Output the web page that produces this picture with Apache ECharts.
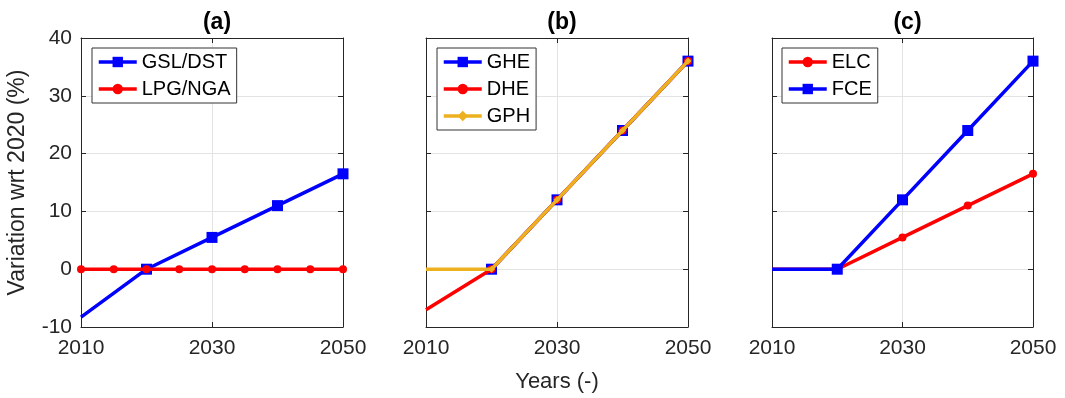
<!DOCTYPE html>
<html>
<head>
<meta charset="utf-8">
<script src="https://cdn.jsdelivr.net/npm/echarts@6/dist/echarts.min.js"></script>
<style>
  html, body { margin: 0; padding: 0; background: #fff; }
  #chart { width: 1065px; height: 398px; }
</style>
</head>
<body>
<div id="chart"></div>
<script>
// ---- data ----
const panelTitles = ['(a)', '(b)', '(c)'];
const yearsDecade = [2010, 2020, 2030, 2040, 2050];
const yearsFive = [2010, 2015, 2020, 2025, 2030, 2035, 2040, 2045, 2050];

// (a)
const gslDst = [-8.3, 0, 5.5, 11, 16.5];
const lpgNga = [0, 0, 0, 0, 0, 0, 0, 0, 0];
// (b)
const yearsGhe = [2020, 2030, 2040, 2050];
const ghe = [0, 12, 24, 36];
const dhe = [-7, 0, 12, 24, 36];
const gph = [0, 0, 12, 24, 36];
// (c)
const elc = [0, 0, 5.5, 11, 16.5];
const fce = [0, 0, 12, 24, 36];

const xTicks = { min: 2010, max: 2050, interval: 20 };
const yTicks = { min: -10, max: 40, interval: 10 };

// ---- styling ----
const FONT = 'Liberation Sans, Arial, Helvetica, sans-serif';
const AX = '#262626';
const BLUE = '#0000ff', RED = '#ff0000', GOLD = '#EDB120';
const LW = 3.5;

const grids = [
  { left: 81, right: 722, top: 38, bottom: 71 },
  { left: 426, right: 377, top: 38, bottom: 71 },
  { left: 772, right: 32, top: 38, bottom: 71 }
];

function pairs(xs, ys, hideFirstSymbol) {
  return xs.map((x, i) => {
    const item = { value: [x, ys[i]] };
    if (hideFirstSymbol && i === 0) item.symbol = 'none';
    return item;
  });
}

const boxLine = { show: true, onZero: false, lineStyle: { color: AX, width: 1 } };
const inTick = { show: true, inside: true, length: 5, lineStyle: { color: AX } };
const gridLine = { show: true, lineStyle: { color: '#e3e3e3', width: 1 } };

const xAxes = [], yAxes = [];
grids.forEach((g, i) => {
  // bottom x axis
  xAxes.push({
    type: 'value', gridIndex: i, position: 'bottom',
    min: xTicks.min, max: xTicks.max, interval: xTicks.interval,
    axisLine: boxLine, axisTick: inTick, splitLine: gridLine,
    axisLabel: {
      show: true, color: AX, fontSize: 21, fontFamily: FONT, margin: 11,
      formatter: v => String(v)
    },
    name: i === 1 ? 'Years (-)' : '', nameLocation: 'middle', nameGap: 44,
    nameTextStyle: { color: AX, fontSize: 22, fontFamily: FONT }
  });
  // top x axis (box edge with ticks)
  xAxes.push({
    type: 'value', gridIndex: i, position: 'top',
    min: xTicks.min, max: xTicks.max, interval: xTicks.interval,
    axisLine: boxLine, axisTick: inTick,
    axisLabel: { show: false }, splitLine: { show: false }
  });
  // left y axis
  yAxes.push({
    type: 'value', gridIndex: i, position: 'left',
    min: yTicks.min, max: yTicks.max, interval: yTicks.interval,
    axisLine: boxLine, axisTick: inTick, splitLine: gridLine,
    axisLabel: {
      show: i === 0, color: AX, fontSize: 21, fontFamily: FONT, margin: 9,
      formatter: v => String(v)
    },
    name: i === 0 ? 'Variation wrt 2020 (%)' : '', nameLocation: 'middle', nameGap: 52,
    nameRotate: 90,
    nameTextStyle: { color: AX, fontSize: 23, fontFamily: FONT }
  });
  // right y axis (box edge with ticks)
  yAxes.push({
    type: 'value', gridIndex: i, position: 'right',
    min: yTicks.min, max: yTicks.max, interval: yTicks.interval,
    axisLine: boxLine, axisTick: inTick,
    axisLabel: { show: false }, splitLine: { show: false }
  });
});

function line(name, panel, color, symbol, size, data, z) {
  return {
    name, type: 'line', xAxisIndex: panel * 2, yAxisIndex: panel * 2,
    data, symbol, symbolSize: size, showAllSymbol: true,
    lineStyle: { color, width: LW },
    itemStyle: { color, borderWidth: 0 },
    emphasis: { disabled: true },
    animation: false, z: z || 2
  };
}

const series = [
  line('GSL/DST', 0, BLUE, 'rect', 11, pairs(yearsDecade, gslDst, true), 2),
  line('LPG/NGA', 0, RED, 'circle', 8, pairs(yearsFive, lpgNga, false), 3),
  line('GHE', 1, BLUE, 'rect', 11, pairs(yearsGhe, ghe, false), 2),
  line('DHE', 1, RED, 'circle', 8, pairs(yearsDecade, dhe, true), 3),
  line('GPH', 1, GOLD, 'diamond', 7, pairs(yearsDecade, gph, true), 4),
  line('ELC', 2, RED, 'circle', 8, pairs(yearsDecade, elc, true), 2),
  line('FCE', 2, BLUE, 'rect', 11, pairs(yearsDecade, fce, true), 3)
];

function legend(names, left) {
  return {
    data: names, orient: 'vertical', left, top: 48,
    itemWidth: 38, itemHeight: 13, itemGap: 7,
    padding: [4, 6, 4, 5],
    backgroundColor: '#fff', borderColor: '#333', borderWidth: 1,
    lineStyle: { width: LW },
    textStyle: { color: '#000', fontSize: 20, fontFamily: FONT },
    selectedMode: false
  };
}

const option = {
  backgroundColor: '#fff',
  animation: false,
  title: panelTitles.map((t, i) => ({
    text: t,
    left: (grids[i].left + (1065 - grids[i].right)) / 2,
    top: 6, textAlign: 'center',
    textStyle: { color: '#000', fontSize: 23, fontWeight: 'bold', fontFamily: FONT }
  })),
  grid: grids,
  xAxis: xAxes,
  yAxis: yAxes,
  legend: [
    legend(['GSL/DST', 'LPG/NGA'], 92),
    legend(['GHE', 'DHE', 'GPH'], 437),
    legend(['ELC', 'FCE'], 782)
  ],
  series
};

const chart = echarts.init(document.getElementById('chart'), null, { renderer: 'canvas' });
chart.setOption(option);
</script>
</body>
</html>
